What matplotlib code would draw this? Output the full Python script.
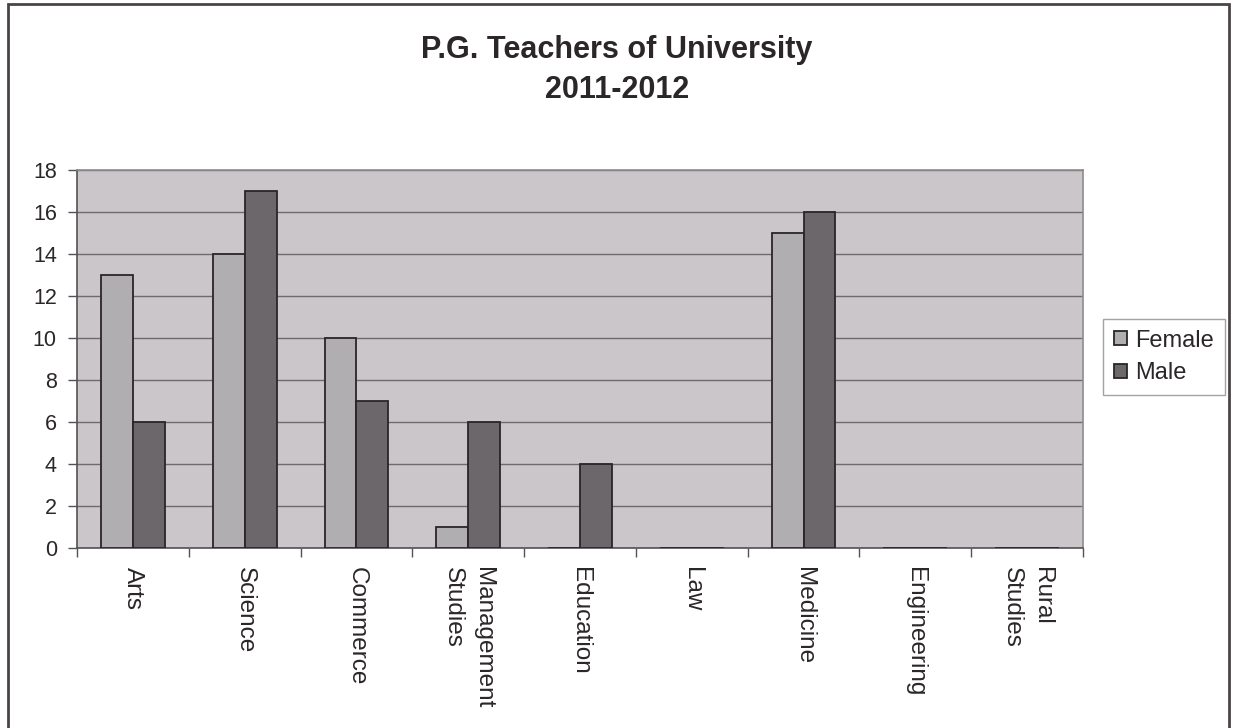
import matplotlib.pyplot as plt
import numpy as np

plt.rcParams['font.family'] = ['Liberation Sans', 'DejaVu Sans']

CATEGORIES = ['Arts', 'Science', 'Commerce', 'Management\nStudies', 'Education',
              'Law', 'Medicine', 'Engineering', 'Rural\nStudies']
FEMALE = [13, 14, 10, 1, 0, 0, 15, 0, 0]
MALE = [6, 17, 7, 6, 4, 0, 16, 0, 0]
Y_TICKS = [0, 2, 4, 6, 8, 10, 12, 14, 16, 18]

BG = '#cac6c9'
FEMALE_COLOR = '#b1aeb1'
MALE_COLOR = '#6c676b'
EDGE = '#2a2528'
TEXT = '#2b2628'

W, H = 1235, 728
fig = plt.figure(figsize=(W / 100, H / 100), dpi=100)
fig.patch.set_facecolor('white')

# outer frame
fig.patches.append(plt.Rectangle((8 / W, -0.01), (1229 - 8) / W, 1.01 - 4 / H,
                                 transform=fig.transFigure, fill=False,
                                 edgecolor='#4a4448', linewidth=2.0))

ax = fig.add_axes([77 / W, 1 - 548 / H, (1083 - 77) / W, (548 - 170) / H])
ax.set_facecolor(BG)

x = np.arange(len(CATEGORIES))
bw = 1 / 3.5
ax.bar(x - bw / 2, FEMALE, bw, color=FEMALE_COLOR, edgecolor=EDGE, linewidth=1.3,
       label='Female', zorder=3)
ax.bar(x + bw / 2, MALE, bw, color=MALE_COLOR, edgecolor=EDGE, linewidth=1.3,
       label='Male', zorder=3)

ax.set_xlim(-0.5, len(CATEGORIES) - 0.5)
ax.set_ylim(0, 18)
ax.set_yticks(Y_TICKS)
ax.set_yticklabels([str(v) for v in Y_TICKS], fontsize=15.5, color=TEXT)
ax.yaxis.grid(True, color='#6f6a6e', linewidth=1.0, zorder=0)
ax.set_axisbelow(True)

ax.set_xticks(x)
ax.set_xticklabels(CATEGORIES, rotation=270, fontsize=17.5, color=TEXT,
                   va='top', ha='center', linespacing=1.5)
for lbl in ax.get_xticklabels():
    lbl.set_multialignment('left')
ax.tick_params(axis='x', length=0, pad=13.5)
ax.set_xticks(np.arange(len(CATEGORIES) + 1) - 0.5, minor=True)
ax.tick_params(axis='x', which='minor', length=6.5, color='#555055', width=1)
ax.tick_params(axis='y', length=6.5, color='#555055', width=1, pad=8)

for side in ('top', 'right'):
    ax.spines[side].set_color('#8f8b8f')
    ax.spines[side].set_linewidth(1.2)
for side in ('left', 'bottom'):
    ax.spines[side].set_color('#555055')
    ax.spines[side].set_linewidth(1.2)

fig.text(617 / W, 1 - 50 / H, 'P.G. Teachers of University', ha='center', va='center',
         fontsize=22, fontweight='bold', color=TEXT)
fig.text(617 / W, 1 - 90 / H, '2011-2012', ha='center', va='center',
         fontsize=22, fontweight='bold', color=TEXT)

leg = fig.legend(loc='center', bbox_to_anchor=(1164 / W, 1 - 357 / H), fontsize=17,
                 frameon=True, fancybox=False, edgecolor='#8f8b8f', handlelength=0.55,
                 handleheight=0.55, handletextpad=0.35, borderpad=0.45, labelspacing=0.45,
                 borderaxespad=0)
leg.get_frame().set_linewidth(1.0)
for t in leg.get_texts():
    t.set_color(TEXT)

fig.savefig('out.png', dpi=100)
